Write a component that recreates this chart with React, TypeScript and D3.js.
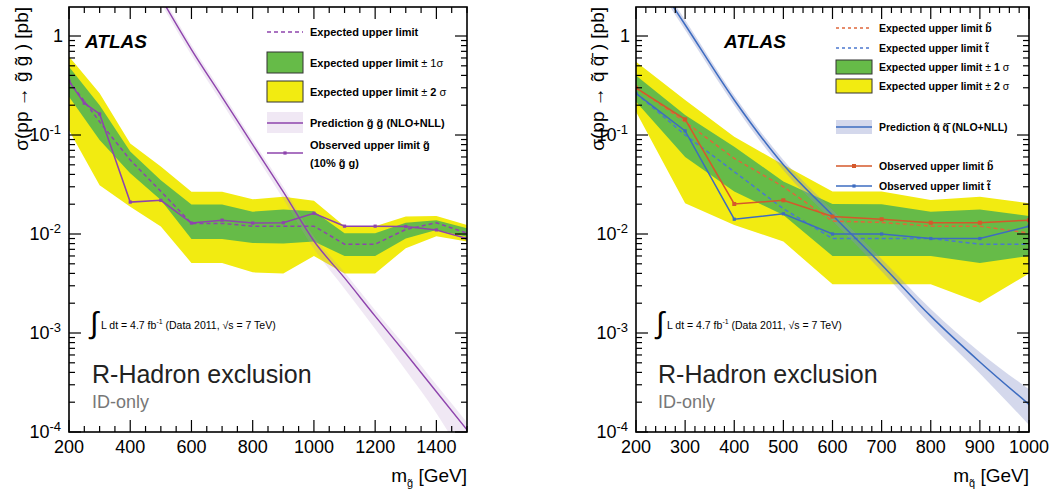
import React from "react";
import * as d3 from "d3";

// ---------------- data ----------------
const gluinoMass = [200, 250, 300, 400, 500, 600, 700, 800, 900, 1000, 1100, 1200, 1300, 1400, 1500];
const gluinoObserved = [0.35, 0.21, 0.163, 0.021, 0.0219, 0.0129, 0.0138, 0.0129, 0.013, 0.0162, 0.012, 0.012, 0.0119, 0.011, 0.009];
const gluinoExpected = [0.35, 0.22, 0.136, 0.056, 0.027, 0.0128, 0.0128, 0.012, 0.012, 0.012, 0.0079, 0.0079, 0.0111, 0.013, 0.0102];

const gluinoBandMass = [200, 300, 400, 500, 600, 700, 800, 900, 1000, 1100, 1200, 1300, 1400, 1500];
const gluinoOneSigmaHi = [0.49, 0.2, 0.068, 0.035, 0.0199, 0.0199, 0.0168, 0.0177, 0.017, 0.0102, 0.0102, 0.013, 0.0138, 0.0114];
const gluinoOneSigmaLo = [0.244, 0.089, 0.041, 0.022, 0.0089, 0.0089, 0.0081, 0.008, 0.0084, 0.006, 0.006, 0.009, 0.011, 0.0094];
const gluinoTwoSigmaHi = [0.62, 0.264, 0.082, 0.048, 0.0267, 0.0267, 0.0224, 0.0238, 0.0217, 0.012, 0.012, 0.015, 0.0152, 0.0123];
const gluinoTwoSigmaLo = [0.112, 0.031, 0.0189, 0.0119, 0.0051, 0.0051, 0.0041, 0.004, 0.006, 0.004, 0.004, 0.0072, 0.0095, 0.0084];

const gluinoPredMass = [500, 600, 700, 800, 900, 1000, 1100, 1200, 1300, 1400, 1500];
const gluinoPred = [2.43, 0.73, 0.242, 0.08, 0.0266, 0.0085, 0.0036, 0.00148, 0.00062, 0.000255, 0.000105];
const gluinoPredHi = [2.7, 0.81, 0.27, 0.089, 0.03, 0.0095, 0.0041, 0.0017, 0.00073, 0.0003, 0.000125];
const gluinoPredLo = [2.15, 0.64, 0.21, 0.069, 0.0226, 0.0071, 0.0028, 0.0011, 0.00042, 0.000155, 0.000048];

const squarkMass = [200, 300, 400, 500, 600, 700, 800, 900, 1000];
const sbottomObserved = [0.3, 0.144, 0.0201, 0.0219, 0.015, 0.0141, 0.013, 0.013, 0.0138];
const stopObserved = [0.264, 0.11, 0.0141, 0.016, 0.01, 0.01, 0.009, 0.009, 0.012];
const sbottomExpected = [0.3, 0.136, 0.058, 0.03, 0.0135, 0.0131, 0.012, 0.012, 0.0102];
const stopExpected = [0.264, 0.1, 0.0426, 0.018, 0.009, 0.009, 0.009, 0.0079, 0.0079];
const squarkOneSigmaHi = [0.4, 0.159, 0.076, 0.034, 0.0201, 0.02, 0.0168, 0.0177, 0.0152];
const squarkOneSigmaLo = [0.217, 0.06, 0.0268, 0.0156, 0.006, 0.006, 0.006, 0.0051, 0.006];
const squarkTwoSigmaHi = [0.55, 0.226, 0.096, 0.05, 0.0268, 0.0268, 0.022, 0.0238, 0.0204];
const squarkTwoSigmaLo = [0.172, 0.0204, 0.0123, 0.0084, 0.0031, 0.0031, 0.0031, 0.00202, 0.004];

const squarkPredMass = [250, 300, 400, 500, 600, 700, 800, 900, 1000];
const squarkPred = [3.1, 1.3, 0.226, 0.05, 0.0155, 0.0049, 0.00148, 0.00051, 0.00019];
const squarkPredHi = [3.45, 1.45, 0.25, 0.056, 0.0175, 0.0056, 0.00175, 0.00064, 0.00027];
const squarkPredLo = [2.75, 1.15, 0.2, 0.044, 0.0136, 0.0042, 0.00121, 0.00039, 0.000118];

const gluinoXTickLabels = [200, 400, 600, 800, 1000, 1200, 1400];
const squarkXTickLabels = [200, 300, 400, 500, 600, 700, 800, 900, 1000];
const yTickExponents = [-4, -3, -2, -1, 0];

// ---------------- style ----------------
const FONT = "'Liberation Sans', Arial, Helvetica, sans-serif";
const YELLOW = "#f2eb11";
const GREEN = "#66bb48";
const PURPLE = "#8e44ad";
const ORANGE = "#d5582b";
const BLUE = "#3d6cc0";
const T = "\u0303";

const yDomain: [number, number] = [1e-4, Math.pow(10, 0.293)];
const ys = d3.scaleLog().domain(yDomain).range([432, 7]);
const xsG = d3.scaleLinear().domain([200, 1500]).range([69, 467]);
const xsS = d3.scaleLinear().domain([200, 1000]).range([636, 1029]);

function yMinorValues(): { v: number; major: boolean }[] {
  const out: { v: number; major: boolean }[] = [];
  for (let e = -4; e <= 0; e++) {
    for (let k = 1; k <= 9; k++) {
      const v = k * Math.pow(10, e);
      if (v <= yDomain[1] * 1.0001) out.push({ v, major: k === 1 });
    }
  }
  return out;
}

function Frame({ xs, majorStep, minorStep, labels }: any) {
  const [xa, xb] = xs.range();
  const [dLo, dHi] = xs.domain();
  const yt = 7, yb = 432;
  const ticks: any[] = [];
  for (let m = dLo; m <= dHi + 0.001; m += minorStep) {
    const major = Math.abs(((m - dLo) / majorStep) - Math.round((m - dLo) / majorStep)) < 1e-6;
    const L = major ? 12 : 6;
    const x = xs(m);
    ticks.push(<line key={"b" + m} x1={x} x2={x} y1={yb} y2={yb - L} />);
    ticks.push(<line key={"t" + m} x1={x} x2={x} y1={yt} y2={yt + L} />);
  }
  yMinorValues().forEach(({ v, major }) => {
    const L = major ? 12 : 6;
    const y = ys(v);
    ticks.push(<line key={"l" + v} x1={xa} x2={xa + L} y1={y} y2={y} />);
    ticks.push(<line key={"r" + v} x1={xb} x2={xb - L} y1={y} y2={y} />);
  });
  return (
    <g>
      <g stroke="#000" strokeWidth={1.2}>{ticks}</g>
      <rect x={xa} y={yt} width={xb - xa} height={yb - yt} fill="none" stroke="#000" strokeWidth={1.6} />
      {labels.map((m: number) => (
        <text key={"xl" + m} x={xs(m)} y={453} textAnchor="middle" fontSize={18}>{m}</text>
      ))}
      {yTickExponents.map((e) => (
        e === 0 ? (
          <text key={"yl" + e} x={xa - 6} y={ys(1) + 6} textAnchor="end" fontSize={18}>1</text>
        ) : (
          <text key={"yl" + e} x={xa - 8} y={ys(Math.pow(10, e)) + 6} textAnchor="end" fontSize={18}>
            10<tspan dy={-7} fontSize={13}>{"-" + Math.abs(e)}</tspan>
          </text>
        )
      ))}
    </g>
  );
}

function bandPath(xs: any, mass: number[], lo: number[], hi: number[], curve: any = d3.curveLinear) {
  return d3.area<number>()
    .x((_, i) => xs(mass[i]))
    .y0((_, i) => ys(lo[i]))
    .y1((_, i) => ys(hi[i]))
    .curve(curve)(mass) as string;
}
function linePath(xs: any, mass: number[], vals: number[], curve: any = d3.curveLinear) {
  return d3.line<number>()
    .x((_, i) => xs(mass[i]))
    .y((d) => ys(d))
    .curve(curve)(vals) as string;
}

function Integral({ x }: { x: number }) {
  return (
    <g>
      <text x={x} y={333} fontSize={30} fontFamily="'DejaVu Sans', sans-serif" fontWeight={200}>∫</text>
      <text x={x + 11} y={329} fontSize={10.5}>
        L dt = 4.7 fb<tspan dy={-5} fontSize={7}>-1</tspan><tspan dy={5}> (Data 2011, √s = 7 TeV)</tspan>
      </text>
    </g>
  );
}

function Titles({ x }: { x: number }) {
  return (
    <g>
      <text x={x} y={383} fontSize={25} fill="#222">R-Hadron exclusion</text>
      <text x={x} y={408} fontSize={18} fill="#777">ID-only</text>
    </g>
  );
}

export default function App() {
  const gL = 69, gR = 467, sL = 636, sR = 1029;
  return (
    <svg width={1060} height={493} style={{ display: "block", position: "absolute", left: 0, top: 0 }} fontFamily={FONT}>
      <defs>
        <clipPath id="clipG"><rect x={gL} y={7} width={gR - gL} height={425} /></clipPath>
        <clipPath id="clipS"><rect x={sL} y={7} width={sR - sL} height={425} /></clipPath>
      </defs>
      <rect x={0} y={0} width={1060} height={493} fill="#fff" />

      {/* ---------- left panel: gluino ---------- */}
      <g clipPath="url(#clipG)">
        <path d={bandPath(xsG, gluinoBandMass, gluinoTwoSigmaLo, gluinoTwoSigmaHi)} fill={YELLOW} />
        <path d={bandPath(xsG, gluinoBandMass, gluinoOneSigmaLo, gluinoOneSigmaHi)} fill={GREEN} />
        <path d={bandPath(xsG, gluinoPredMass, gluinoPredLo, gluinoPredHi, d3.curveMonotoneX)} fill="#b48cc8" fillOpacity={0.2} />
        <path d={linePath(xsG, gluinoMass, gluinoExpected)} fill="none" stroke={PURPLE} strokeWidth={1.5} strokeDasharray="4,3" />
        <path d={linePath(xsG, gluinoPredMass, gluinoPred, d3.curveMonotoneX)} fill="none" stroke={PURPLE} strokeWidth={1.4} />
        <path d={linePath(xsG, gluinoMass, gluinoObserved)} fill="none" stroke={PURPLE} strokeWidth={1.5} />
        {gluinoMass.map((m, i) => (
          <rect key={"go" + m} x={xsG(m) - 1.6} y={ys(gluinoObserved[i]) - 1.6} width={3.2} height={3.2} fill={PURPLE} />
        ))}
      </g>
      <Frame xs={xsG} majorStep={200} minorStep={50} labels={gluinoXTickLabels} />
      <text x={85} y={48} fontSize={19} fontWeight="bold" fontStyle="italic">ATLAS</text>
      <Integral x={90} />
      <Titles x={92} />
      {/* legend left */}
      <g fontSize={11} fontWeight="bold">
        <line x1={267} x2={303} y1={32} y2={32} stroke={PURPLE} strokeWidth={1.5} strokeDasharray="4,3" />
        <text x={310} y={36}>Expected upper limit</text>
        <rect x={267} y={52} width={36} height={21} fill={GREEN} stroke="#333" strokeWidth={1} />
        <text x={310} y={67}>Expected upper limit<tspan fontWeight="normal"> ± 1σ</tspan></text>
        <rect x={267} y={81} width={36} height={21} fill={YELLOW} stroke="#333" strokeWidth={1} />
        <text x={310} y={96}>Expected upper limit<tspan fontWeight="normal"> ±</tspan> 2 <tspan fontWeight="normal">σ</tspan></text>
        <rect x={267} y={112} width={36} height={21} fill="#b48cc8" fillOpacity={0.2} />
        <line x1={267} x2={303} y1={123} y2={123} stroke={PURPLE} strokeWidth={1.5} />
        <text x={310} y={127}>{"Prediction g" + T + " g" + T + " (NLO+NLL)"}</text>
        <line x1={267} x2={303} y1={153} y2={153} stroke={PURPLE} strokeWidth={1.5} />
        <rect x={283.4} y={151.4} width={3.2} height={3.2} fill={PURPLE} />
        <text x={310} y={149}>{"Observed upper limit g" + T}</text>
        <text x={310} y={167}>{"(10% g" + T + " g)"}</text>
      </g>
      {/* axis titles left */}
      <text transform="translate(28,7) rotate(-90)" textAnchor="end" fontSize={19}>
        {"σ(pp → g" + T + " g" + T + " ) [pb]"}
      </text>
      <text x={467} y={482} textAnchor="end" fontSize={19}>
        m<tspan dy={5} fontSize={11}>{"g" + T}</tspan><tspan dy={-5}> [GeV]</tspan>
      </text>

      {/* ---------- right panel: squarks ---------- */}
      <g clipPath="url(#clipS)">
        <path d={bandPath(xsS, squarkMass, squarkTwoSigmaLo, squarkTwoSigmaHi)} fill={YELLOW} />
        <path d={bandPath(xsS, squarkMass, squarkOneSigmaLo, squarkOneSigmaHi)} fill={GREEN} />
        <path d={bandPath(xsS, squarkPredMass, squarkPredLo, squarkPredHi, d3.curveMonotoneX)} fill="#8390c8" fillOpacity={0.35} />
        <path d={linePath(xsS, squarkMass, sbottomExpected)} fill="none" stroke="#e0673a" strokeWidth={1.5} strokeDasharray="4,3" />
        <path d={linePath(xsS, squarkMass, stopExpected)} fill="none" stroke="#4a78d0" strokeWidth={1.5} strokeDasharray="4,3" />
        <path d={linePath(xsS, squarkPredMass, squarkPred, d3.curveMonotoneX)} fill="none" stroke={BLUE} strokeWidth={1.5} />
        <path d={linePath(xsS, squarkMass, sbottomObserved)} fill="none" stroke={ORANGE} strokeWidth={1.5} />
        <path d={linePath(xsS, squarkMass, stopObserved)} fill="none" stroke={BLUE} strokeWidth={1.5} />
        {squarkMass.map((m, i) => (
          <rect key={"sb" + m} x={xsS(m) - 2} y={ys(sbottomObserved[i]) - 2} width={4} height={4} fill={ORANGE} />
        ))}
        {squarkMass.map((m, i) => (
          <rect key={"st" + m} x={xsS(m) - 1.6} y={ys(stopObserved[i]) - 1.6} width={3.2} height={3.2} fill={BLUE} />
        ))}
      </g>
      <Frame xs={xsS} majorStep={100} minorStep={20} labels={squarkXTickLabels} />
      <text x={724} y={48} fontSize={19} fontWeight="bold" fontStyle="italic">ATLAS</text>
      <Integral x={656} />
      <Titles x={658} />
      {/* legend right */}
      <g fontSize={10.5} fontWeight="bold">
        <line x1={836} x2={872} y1={28} y2={28} stroke="#e0673a" strokeWidth={1.5} strokeDasharray="3,3" />
        <text x={879} y={32}>{"Expected upper limit b" + T}</text>
        <line x1={836} x2={872} y1={48} y2={48} stroke="#4a78d0" strokeWidth={1.5} strokeDasharray="3,3" />
        <text x={879} y={52}>{"Expected upper limit t" + T}</text>
        <rect x={836} y={60} width={36} height={14} fill={GREEN} stroke="#333" strokeWidth={1} />
        <text x={879} y={71}>Expected upper limit <tspan fontWeight="normal"> ±</tspan> 1 <tspan fontWeight="normal">σ</tspan></text>
        <rect x={836} y={79} width={36} height={14} fill={YELLOW} stroke="#333" strokeWidth={1} />
        <text x={879} y={90}>Expected upper limit <tspan fontWeight="normal"> ±</tspan> 2 <tspan fontWeight="normal">σ</tspan></text>
        <rect x={836} y={120} width={36} height={14} fill="#8390c8" fillOpacity={0.35} />
        <line x1={836} x2={872} y1={127} y2={127} stroke={BLUE} strokeWidth={1.5} />
        <text x={879} y={131}>{"Prediction q" + T + " q" + T + "\u0304 (NLO+NLL)"}</text>
        <line x1={836} x2={872} y1={166} y2={166} stroke={ORANGE} strokeWidth={1.5} />
        <rect x={852} y={164} width={4} height={4} fill={ORANGE} />
        <text x={879} y={170}>{"Observed upper limit b" + T}</text>
        <line x1={836} x2={872} y1={186} y2={186} stroke={BLUE} strokeWidth={1.5} />
        <rect x={852.4} y={184.4} width={3.2} height={3.2} fill={BLUE} />
        <text x={879} y={190}>{"Observed upper limit t" + T}</text>
      </g>
      <text transform="translate(604,7) rotate(-90)" textAnchor="end" fontSize={19}>
        {"σ(pp → q" + T + " q" + T + "\u0304 ) [pb]"}
      </text>
      <text x={1029} y={482} textAnchor="end" fontSize={19}>
        m<tspan dy={5} fontSize={11}>{"q" + T}</tspan><tspan dy={-5}> [GeV]</tspan>
      </text>
    </svg>
  );
}
